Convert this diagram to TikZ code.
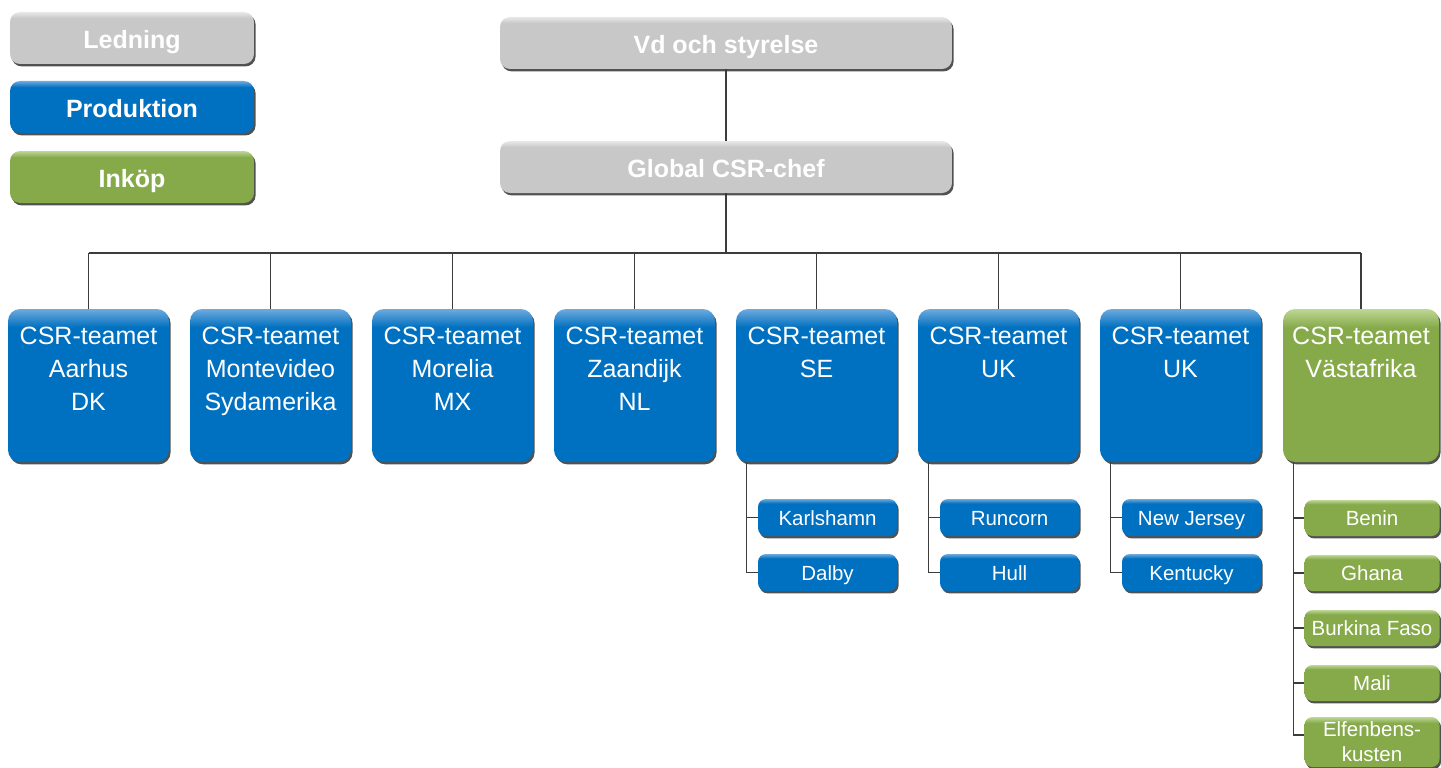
\documentclass[tikz,border=0pt]{standalone}
\usepackage{fontspec}
\setmainfont{Liberation Sans}
\usetikzlibrary{shadows}
\definecolor{bluebase}{RGB}{0,112,192}
\definecolor{bluelight}{RGB}{110,170,222}
\definecolor{graybase}{RGB}{200,200,200}
\definecolor{graylight}{RGB}{232,232,232}
\definecolor{greenbase}{RGB}{134,170,74}
\definecolor{greenlight}{RGB}{190,215,150}
\definecolor{linecol}{RGB}{60,60,60}
\pgfdeclareverticalshading{blueshade}{100bp}{color(0bp)=(bluebase); color(25bp)=(bluebase); color(69bp)=(bluebase); color(75bp)=(bluelight); color(100bp)=(bluelight)}
\pgfdeclareverticalshading{grayshade}{100bp}{color(0bp)=(graybase); color(25bp)=(graybase); color(69bp)=(graybase); color(75bp)=(graylight); color(100bp)=(graylight)}
\pgfdeclareverticalshading{greenshade}{100bp}{color(0bp)=(greenbase); color(25bp)=(greenbase); color(69bp)=(greenbase); color(75bp)=(greenlight); color(100bp)=(greenlight)}
\tikzset{
  boxbase/.style={rounded corners=10pt, inner sep=0pt, text=white, align=center,
    drop shadow={shadow xshift=1.6pt, shadow yshift=-2.4pt, opacity=0.8, fill=black!85}},
  bluebox/.style={boxbase, shading=blueshade},
  graybox/.style={boxbase, shading=grayshade},
  greenbox/.style={boxbase, shading=greenshade},
  hdr/.style={minimum width=244pt, minimum height=52pt, text height=21pt, text depth=0pt, font=\bfseries\fontsize{25}{28}\selectfont},
  top/.style={minimum width=452pt, minimum height=52pt, text height=21pt, text depth=0pt, font=\bfseries\fontsize{25}{28}\selectfont},
  team/.style={minimum width=161pt, minimum height=153pt, rounded corners=12pt},
  teamtext/.style={anchor=north, inner sep=0pt, text=white, align=center, font=\fontsize{25}{33}\selectfont},
  sub/.style={minimum width=139pt, minimum height=37pt, rounded corners=8pt, text height=15pt, text depth=0pt, font=\fontsize{20.5}{26}\selectfont},
  gsub/.style={minimum width=135pt, minimum height=36pt, rounded corners=8pt, text height=15pt, text depth=0pt, font=\fontsize{20.5}{26}\selectfont},
  gsubtwo/.style={minimum width=135pt, minimum height=50pt, rounded corners=8pt, font=\fontsize{20.5}{25}\selectfont},
  conn/.style={draw=linecol, line width=1.2pt}
}
\begin{document}
\begin{tikzpicture}[x=1pt,y=-1pt]
\useasboundingbox (0,0) rectangle (1441,768);
% legend
\node[graybox,hdr] (led) at (132,38) {Ledning};
\node[bluebox,hdr] (prod) at (132,107) {Produktion};
\node[greenbox,hdr] (ink) at (132,177) {Inköp};
% top
\node[graybox,top] (vd) at (726,43) {Vd och styrelse};
\node[graybox,top] (gc) at (726,167) {Global CSR-chef};
\coordinate (bus) at (726,253);
% teams
\node[bluebox,team] (t1) at (88.5,385.5) {};
\node[bluebox,team] (t2) at (270.5,385.5) {};
\node[bluebox,team] (t3) at (452.5,385.5) {};
\node[bluebox,team] (t4) at (634.5,385.5) {};
\node[bluebox,team] (t5) at (816.5,385.5) {};
\node[bluebox,team] (t6) at (998.5,385.5) {};
\node[bluebox,team] (t7) at (1180.5,385.5) {};
\node[greenbox,team,minimum width=156pt] (t8) at (1361,385.5) {};
\node[teamtext] (t1x) at ([yshift=-18pt]t1.north) {CSR-teamet\\Aarhus\\DK};
\node[teamtext] (t2x) at ([yshift=-18pt]t2.north) {CSR-teamet\\Montevideo\\Sydamerika};
\node[teamtext] (t3x) at ([yshift=-18pt]t3.north) {CSR-teamet\\Morelia\\MX};
\node[teamtext] (t4x) at ([yshift=-18pt]t4.north) {CSR-teamet\\Zaandijk\\NL};
\node[teamtext] (t5x) at ([yshift=-18pt]t5.north) {CSR-teamet\\SE};
\node[teamtext] (t6x) at ([yshift=-18pt]t6.north) {CSR-teamet\\UK};
\node[teamtext] (t7x) at ([yshift=-18pt]t7.north) {CSR-teamet\\UK};
\node[teamtext] (t8x) at ([yshift=-18pt]t8.north) {CSR-teamet\\Västafrika};
% sub boxes
\node[bluebox,sub] (s51) at (827.5,517.5) {Karlshamn};
\node[bluebox,sub] (s52) at (827.5,572.5) {Dalby};
\node[bluebox,sub] (s61) at (1009.5,517.5) {Runcorn};
\node[bluebox,sub] (s62) at (1009.5,572.5) {Hull};
\node[bluebox,sub] (s71) at (1191.5,517.5) {New Jersey};
\node[bluebox,sub] (s72) at (1191.5,572.5) {Kentucky};
\node[greenbox,gsub] (g1) at (1372,518) {Benin};
\node[greenbox,gsub] (g2) at (1372,573) {Ghana};
\node[greenbox,gsub] (g3) at (1372,628) {Burkina Faso};
\node[greenbox,gsub] (g4) at (1372,683) {Mali};
\node[greenbox,gsubtwo] (g5) at (1372,742) {Elfenbens-\\kusten};
% connectors
\draw[conn] (vd.south) -- (gc.north);
\draw[conn] (gc.south) -- (bus);
\draw[conn] (t1.north |- bus) -- (t8.north |- bus);
\foreach \t in {t1,t2,t3,t4,t5,t6,t7,t8}{
  \draw[conn] (\t.north) -- (\t.north |- bus);
}
\foreach \t/\a/\b in {t5/s51/s52, t6/s61/s62, t7/s71/s72}{
  \draw[conn] ([xshift=-11pt]\a.west |- \t.south) |- (\b.west);
  \draw[conn] ([xshift=-11pt]\a.west) -- (\a.west);
}
\coordinate (gend) at ([xshift=-11pt]g5.west |- 0,735);
\draw[conn] ([xshift=-11pt]g1.west |- t8.south) -- (gend) -- (gend -| g5.west);
\foreach \g in {g1,g2,g3,g4}{
  \draw[conn] ([xshift=-11pt]\g.west) -- (\g.west);
}
\end{tikzpicture}
\end{document}
